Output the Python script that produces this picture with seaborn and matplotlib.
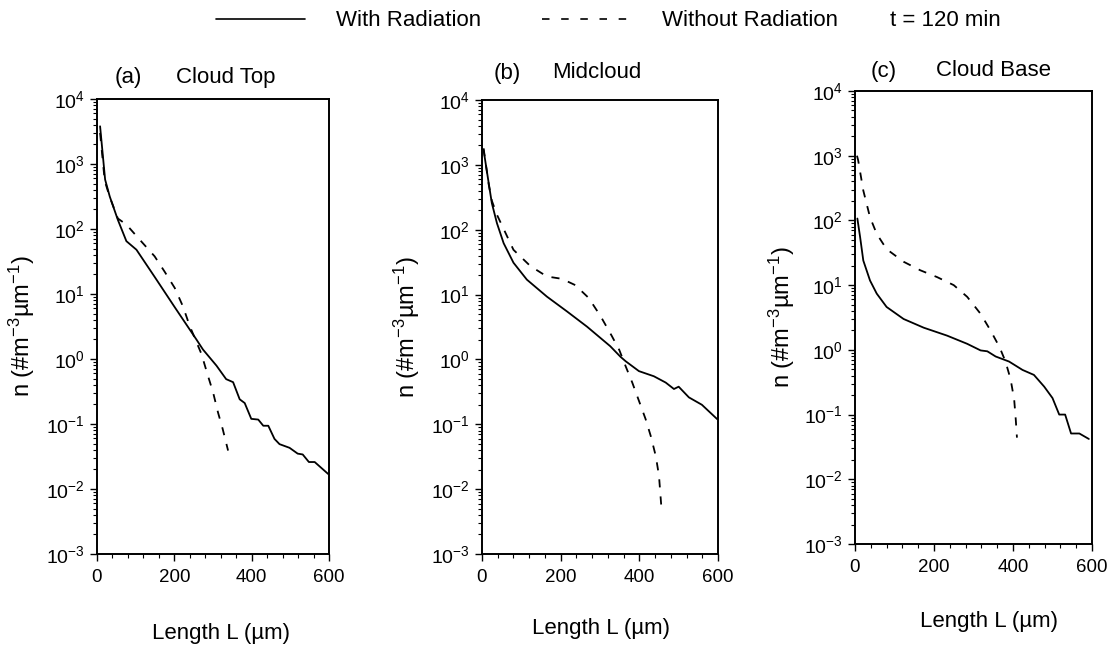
import numpy as np
import pandas as pd
import matplotlib
matplotlib.use("Agg")
import matplotlib.pyplot as plt
from matplotlib.ticker import MultipleLocator, LogLocator, NullFormatter
from matplotlib.lines import Line2D
import seaborn as sns

# ---------------- data ----------------
top_with_L = [8, 21, 33, 54, 76, 102, 150, 200, 257, 274, 309, 334, 352, 369, 382, 399,
              417, 430, 443, 459, 472, 498, 519, 532, 548, 563, 598]
top_with_n = [3800, 575, 316, 138, 65, 48, 18, 6.4, 2.0, 1.4, 0.79, 0.49, 0.44, 0.24, 0.21,
              0.12, 0.117, 0.094, 0.094, 0.059, 0.049, 0.043, 0.035, 0.034, 0.026, 0.026, 0.017]
top_without_L = [8, 20, 33, 54, 76, 110, 149, 175, 201, 222, 240, 270, 287, 300, 313, 325, 339]
top_without_n = [3000, 550, 310, 145, 117, 69, 38, 22, 12.4, 6.5, 3.2, 1.2, 0.55, 0.31,
                 0.15, 0.084, 0.039]

mid_with_L = [4, 17, 25, 38, 55, 80, 114, 165, 216, 267, 326, 352, 365, 399, 437, 467,
              488, 500, 526, 559, 598]
mid_with_n = [1700, 525, 257, 126, 62, 31, 17, 9.3, 5.5, 3.2, 1.6, 1.1, 0.94, 0.66, 0.55,
              0.44, 0.35, 0.38, 0.26, 0.20, 0.12]
mid_without_L = [4, 17, 25, 38, 80, 123, 165, 203, 237, 271, 301, 330, 349, 365, 382, 399,
                 416, 429, 442, 450, 457]
mid_without_n = [1800, 500, 280, 170, 49, 27.5, 19, 17.5, 14, 8.9, 4.7, 2.3, 1.4, 0.79,
                 0.44, 0.23, 0.12, 0.066, 0.032, 0.016, 0.0044]

base_with_L = [6, 13, 21, 38, 55, 80, 123, 174, 233, 284, 318, 335, 356, 390, 424, 453,
               479, 500, 517, 532, 547, 568, 592]
base_with_n = [107, 55, 24, 11.8, 7.4, 4.6, 3.0, 2.2, 1.66, 1.24, 0.98, 0.95, 0.79, 0.66,
               0.49, 0.41, 0.27, 0.18, 0.10, 0.10, 0.051, 0.051, 0.042]
base_without_L = [5, 8, 21, 38, 55, 80, 123, 165, 208, 250, 284, 318, 343, 366, 381, 394,
                  403, 407, 410]
base_without_n = [1000, 850, 290, 112, 62, 36, 23, 17, 13.3, 10, 6.6, 3.6, 2.0, 1.1, 0.66,
                  0.35, 0.17, 0.084, 0.044]

panel_letters = ["(a)", "(b)", "(c)"]
panel_names = ["Cloud Top", "Midcloud", "Cloud Base"]
series_labels = ["With Radiation", "Without Radiation"]
time_label = "t = 120 min"
x_label = "Length L (µm)"
y_label = "n (#m$^{-3}$µm$^{-1}$)"

# ---------------- style ----------------
sns.set_style("ticks")
plt.rcParams["font.family"] = ["Liberation Sans", "DejaVu Sans"]
plt.rcParams["mathtext.fontset"] = "custom"
plt.rcParams["mathtext.rm"] = "Liberation Sans"
plt.rcParams["mathtext.it"] = "Liberation Sans:italic"
plt.rcParams["mathtext.bf"] = "Liberation Sans:bold"
plt.rcParams["axes.unicode_minus"] = False
plt.rcParams["text.color"] = "black"
plt.rcParams["axes.labelcolor"] = "black"
plt.rcParams["xtick.color"] = "black"
plt.rcParams["ytick.color"] = "black"
plt.rcParams["legend.labelcolor"] = "black"

W, H = 1114, 646
fig = plt.figure(figsize=(W / 100, H / 100), dpi=100)
fig.patch.set_facecolor("white")

def px_rect(l, r, t, b):
    return [l / W, 1 - b / H, (r - l) / W, (b - t) / H]

axes_px = [(97, 329, 99, 554), (482, 718, 100, 554), (855, 1092, 91, 544)]
ylab_pos = [(-0.259, 0.5), (-0.254, 0.5), (-0.245, 0.5)]
xlab_pos = [(0.534, -0.152), (0.504, -0.141), (0.565, -0.148)]
title_px = [((128, 226), 77), ((507, 597), 73), ((884, 993), 71)]

panels = [
    (top_with_L, top_with_n, top_without_L, top_without_n),
    (mid_with_L, mid_with_n, mid_without_L, mid_without_n),
    (base_with_L, base_with_n, base_without_L, base_without_n),
]

dash = (0, (4.5, 5))
for i, (wl, wn, ol, on) in enumerate(panels):
    ax = fig.add_axes(px_rect(*axes_px[i]))
    ax.set_yscale("log")
    df_w = pd.DataFrame({"L": wl, "n": wn})
    df_o = pd.DataFrame({"L": ol, "n": on})
    sns.lineplot(data=df_w, x="L", y="n", ax=ax, color="black", lw=1.3,
                 estimator=None, sort=False)
    sns.lineplot(data=df_o, x="L", y="n", ax=ax, color="black", lw=1.3,
                 linestyle=dash, estimator=None, sort=False)
    ax.set_xlim(0, 600)
    ax.set_ylim(1e-3, 1e4)
    ax.xaxis.set_major_locator(MultipleLocator(200))
    ax.xaxis.set_minor_locator(MultipleLocator(40))
    ax.yaxis.set_major_locator(LogLocator(base=10, numticks=20))
    ax.yaxis.set_minor_locator(LogLocator(base=10, subs=np.arange(2, 10), numticks=20))
    ax.yaxis.set_minor_formatter(NullFormatter())
    ax.tick_params(which="major", direction="out", length=5, width=1.0, colors="black")
    ax.tick_params(axis="y", which="major", labelsize=14)
    ax.tick_params(axis="x", which="major", labelsize=13.5, pad=6)
    ax.tick_params(which="minor", direction="out", length=3, width=0.8, colors="black")
    for s in ax.spines.values():
        s.set_linewidth(1.4)
        s.set_color("black")
    ax.set_xlabel(x_label, fontsize=16, color="black")
    ax.set_ylabel(y_label, fontsize=17, color="black")
    ax.yaxis.set_label_coords(*ylab_pos[i])
    ax.xaxis.set_label_coords(*xlab_pos[i])
    (xa, xb), ty = title_px[i]
    fig.text(xa / W, 1 - ty / H, panel_letters[i], ha="center", va="center",
             fontsize=16, color="black")
    fig.text(xb / W, 1 - ty / H, panel_names[i], ha="center", va="center",
             fontsize=16, color="black")

handles = [Line2D([], [], color="black", lw=1.2),
           Line2D([], [], color="black", lw=1.2, linestyle=(0, (4.5, 7)))]
fig.legend(handles, series_labels, loc="center left",
           bbox_to_anchor=(216 / W, 1 - 21 / H), ncol=2, frameon=False,
           fontsize=16, handlelength=4.0, handletextpad=1.4, columnspacing=2.75,
           borderpad=0, borderaxespad=0)
fig.text(890 / W, 1 - 21 / H, time_label, ha="left", va="center", fontsize=16,
         color="black")

fig.savefig("out.png", dpi=100, facecolor="white")
